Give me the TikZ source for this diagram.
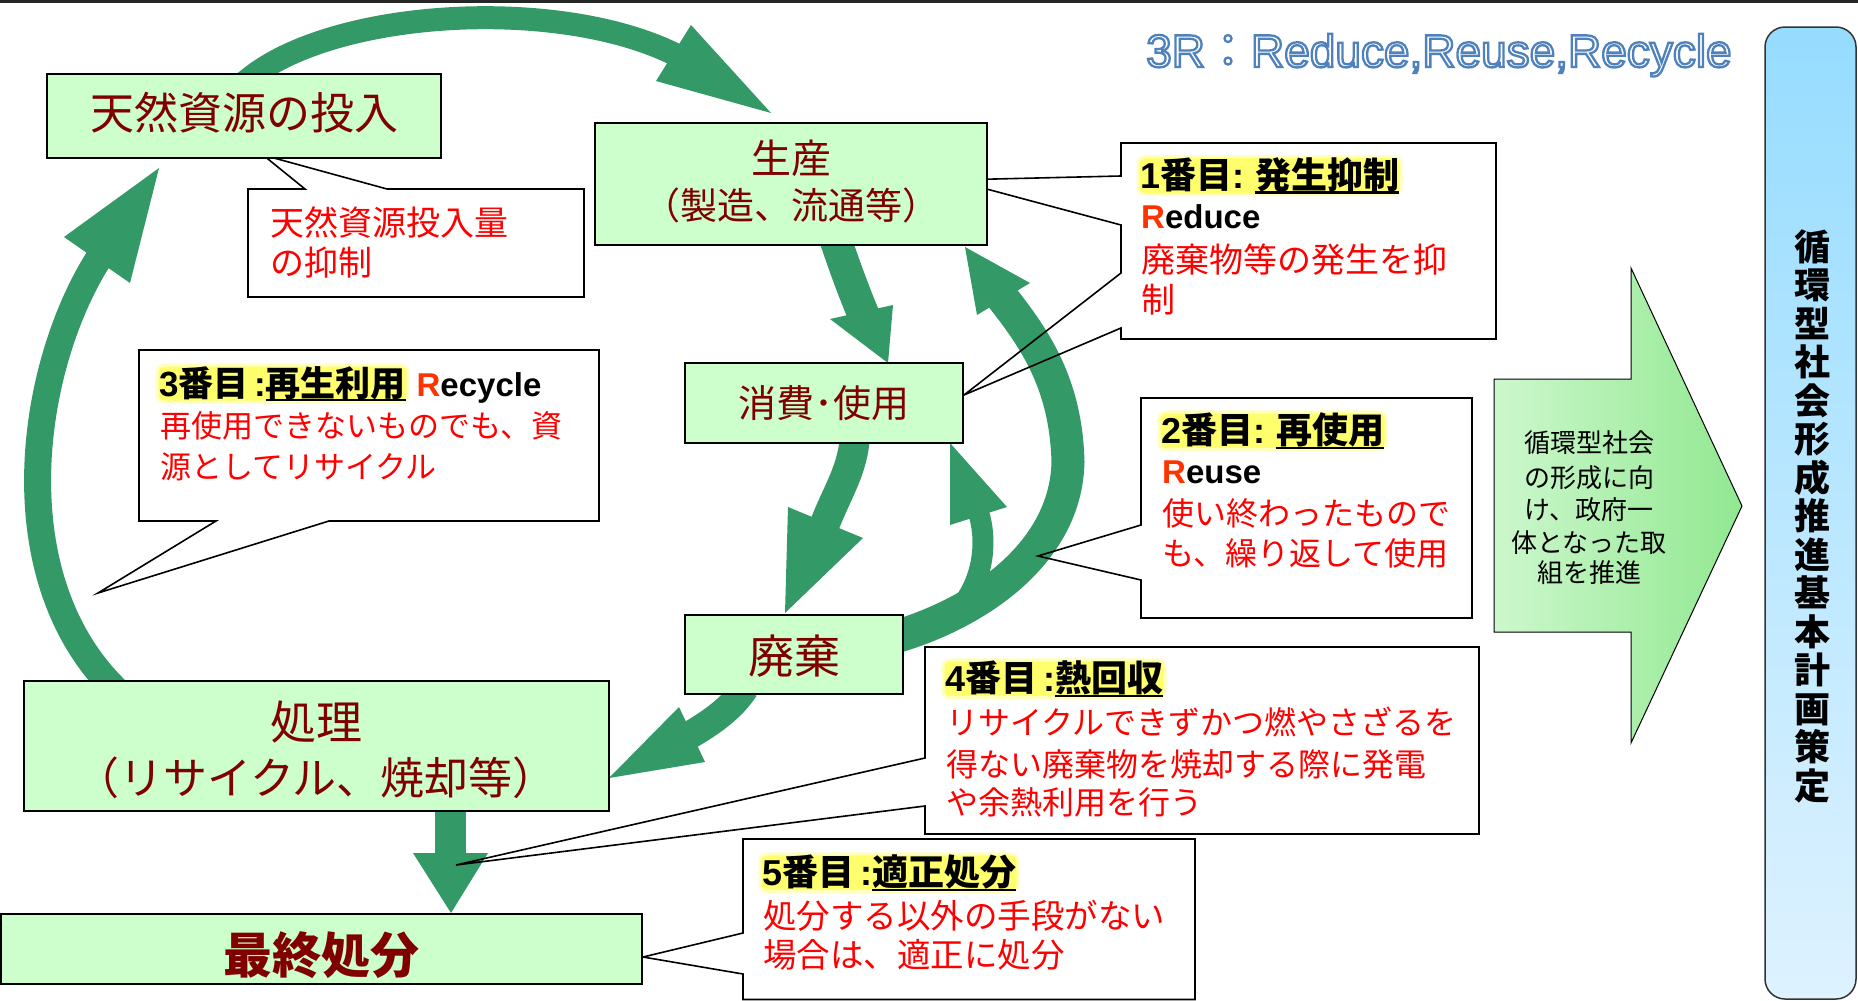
\documentclass[tikz,border=0pt]{standalone}
\usepackage{fontspec}
\setmainfont{Noto Sans CJK JP}
\newfontfamily\lat{Liberation Sans}
\newfontfamily\outl[FakeBold=5]{Liberation Sans}
\newfontfamily\outlj[FakeBold=5]{Noto Sans CJK JP}
\usetikzlibrary{calc}
\definecolor{agreen}{RGB}{51,153,102}
\definecolor{boxg}{RGB}{204,255,204}
\definecolor{dred}{RGB}{128,0,0}
\definecolor{tred}{RGB}{255,0,0}
\definecolor{rorange}{RGB}{255,51,0}
\definecolor{hlY}{RGB}{255,255,110}
\definecolor{hlY2}{RGB}{255,255,190}
\definecolor{barT}{RGB}{150,220,255}
\definecolor{barB}{RGB}{222,242,255}
\definecolor{lgA}{RGB}{205,247,205}
\definecolor{lgB}{RGB}{145,232,145}
\newcommand\fs[1]{\fontsize{#1}{#1}\selectfont}
\newcommand\ulx[1]{\setbox0\hbox{#1}\rlap{\rule[-5pt]{\wd0}{2.2pt}}\box0}
\tikzset{
  gbox/.style={draw=black, line width=2pt, fill=boxg, inner sep=0pt},
  btxt/.style={text=dred, inner sep=0pt, anchor=base},
  ctxt/.style={text=tred, inner sep=0pt, anchor=base west},
  htxt/.style={text=black, anchor=base west, fill=hlY, draw=hlY2, line width=3pt, rounded corners=7pt, inner xsep=2pt, inner ysep=1pt},
  latxt/.style={text=black, inner sep=0pt, anchor=base west},
  callbox/.style={draw=black, line width=1.6pt, line join=miter},
  shaft/.style={draw=agreen, line cap=butt},
  ahead/.style={fill=agreen},
}
\def\pathA{(248,189) -- (305,189) -- (263,155) -- (387,189) -- (584,189) -- (584,297) -- (248,297) -- cycle}
\def\pathB{(139,350) -- (599,350) -- (599,521) -- (329,521) -- (98,593) -- (216,521) -- (139,521) -- cycle}
\def\pathC{(1121,143) -- (1496,143) -- (1496,339) -- (1121,339) -- (1121,328) -- (964,395) -- (1121,273) -- (1121,225) -- (953,180) -- (1121,176) -- cycle}
\def\pathD{(1141,398) -- (1472,398) -- (1472,618) -- (1141,618) -- (1141,580) -- (1038,556) -- (1141,525) -- cycle}
\def\pathE{(925,647) -- (1479,647) -- (1479,834) -- (925,834) -- (925,806) -- (456,865) -- (925,758) -- cycle}
\def\pathF{(743,839) -- (1195,839) -- (1195,999.5) -- (743,999.5) -- (743,974) -- (643,957) -- (743,933) -- cycle}
\begin{document}
\begin{tikzpicture}[x=1pt,y=-1pt]
\useasboundingbox (0,0) rectangle (1858,1001);
\fill[white] (0,0) rectangle (1858,1001);
\draw[line width=3pt, black!85] (0,1.5) -- (1858,1.5);

% blue bar
\shadedraw[top color=barT, bottom color=barB, draw=black!80, line width=1.5pt, rounded corners=20pt] (1765,27) rectangle (1856,999);
\node[align=center, font=\fontsize{36}{38.5}\selectfont\bfseries, inner sep=0pt] (vert) at (1812,516) {循\\環\\型\\社\\会\\形\\成\\推\\進\\基\\本\\計\\画\\策\\定};

% big light green block arrow
\shadedraw[left color=lgA, right color=lgB, draw=black, line width=1pt] (1494,379) -- (1631,379) -- (1631,268) -- (1742,506) -- (1631,743) -- (1631,632) -- (1494,632) -- cycle;
\node[anchor=base, font=\fs{26}, inner sep=0pt] (g1) at (1589,452.4) {循環型社会};
\node[anchor=base, font=\fs{26}, inner sep=0pt] (g2) at (1589,487) {の形成に向};
\node[anchor=base, font=\fs{26}, inner sep=0pt] (g3) at (1589,519) {け、政府一};
\node[anchor=base, font=\fs{26}, inner sep=0pt] (g4) at (1589,552) {体となった取};
\node[anchor=base, font=\fs{26}, inner sep=0pt] (g5) at (1589,582) {組を推進};

% title (white letters with blue outline)
\node[anchor=base west, inner sep=0pt, font=\fs{46}\outl] (title) at (1146,67) {\special{pdf:bcolor [1 1 1] [0.31 0.506 0.741]}3R{\outlj ：}Reduce,Reuse,Recycle\special{pdf:ecolor}};

% callout fills
\fill[white] \pathA;
\fill[white] \pathB;
\fill[white] \pathC;
\fill[white] \pathD;
\fill[white] \pathE;
\fill[white] \pathF;

% green arrows
\draw[shaft, line width=23pt] (245,82) .. controls (330,8) and (565,-5) .. (682,58);
\fill[ahead] (691,25) -- (771,113) -- (656,81) -- cycle;
\draw[shaft, line width=27pt] (118,692) .. controls (0,580) and (28,370) .. (99,258);
\fill[ahead] (64,237) -- (159,168) -- (130,283) -- cycle;
\draw[shaft, line width=32pt] (834,235) .. controls (845,268) and (854,292) .. (864,316);
\fill[ahead] (830,319) -- (888,363) -- (893,305) -- cycle;
\draw[shaft, line width=30pt] (855,435) .. controls (853,470) and (838,490) .. (824,526);
\fill[ahead] (788,507) -- (785,613) -- (863,538) -- cycle;
\draw[shaft, line width=28pt] (745,688) .. controls (732,708) and (712,722) .. (690,735);
\fill[ahead] (679,707) -- (609,778) -- (705,762) -- cycle;
\draw[shaft, line width=33pt] (895,637) .. controls (980,612) and (1066,552) .. (1068,462) .. controls (1066,385) and (1036,340) .. (1001,296);
\fill[ahead] (977,315) -- (965,247) -- (1030,283) -- cycle;
\draw[shaft, line width=21pt] (945,622) .. controls (978,598) and (990,552) .. (979,514);
\fill[ahead] (950,525) -- (950,443) -- (1007,507) -- cycle;
\draw[shaft, line width=31pt] (450.5,805) -- (450.5,855);
\fill[ahead] (413,853) -- (451,913) -- (488,853) -- cycle;

% callout outlines
\draw[callbox] \pathA;
\draw[callbox] \pathB;
\draw[callbox] \pathC;
\draw[callbox] \pathD;
\draw[callbox] \pathE;
\draw[callbox] \pathF;

% green boxes
\node[gbox, minimum width=394pt, minimum height=84pt] (nat) at (244,116) {};
\node[gbox, minimum width=392pt, minimum height=122pt] (prod) at (791,184) {};
\node[gbox, minimum width=278pt, minimum height=80pt] (cons) at (824,403) {};
\node[gbox, minimum width=218pt, minimum height=79pt] (waste) at (794,654.5) {};
\node[gbox, minimum width=585pt, minimum height=130pt] (treat) at (316.5,746) {};
\node[gbox, minimum width=641pt, minimum height=70pt] (final) at (321.5,949) {};

\node[btxt, font=\fs{44}] (natT) at (244,129.7) {天然資源の投入};
\node[btxt, font=\fs{40}] (prodT1) at (791,173.2) {生産};
\node[btxt, font=\fs{37}] (prodT2) at (791,219) {（製造、流通等）};
\node[btxt, font=\fs{38}] (consT) at (824,417.4) {消費･使用};
\node[btxt, font=\fs{46}] (wasteT) at (794,673.5) {廃棄};
\node[btxt, font=\fs{46}] (treatT1) at (316,739.5) {処理};
\node[btxt, font=\fs{44}] (treatT2) at (316,794.7) {（リサイクル、焼却等）};
\node[btxt, font=\fs{49}\bfseries] (finalT) at (321,973.6) {最終処分};

% callout texts
\node[ctxt, font=\fs{34}] (tA1) at (270,235.5) {天然資源投入量};
\node[ctxt, font=\fs{34}] (tA2) at (270,275.5) {の抑制};

\node[htxt, font=\fs{36}\bfseries] (tC0) at (1136.5,188.5) {{\lat 1}番目{\lat :} \ulx{発生抑制}};
\node[latxt, font=\fs{33}\lat\bfseries] (tC1) at (1141,228) {\textcolor{rorange}{R}educe};
\node[ctxt, font=\fs{34}] (tC2) at (1141,272) {廃棄物等の発生を抑};
\node[ctxt, font=\fs{34}] (tC3) at (1141,312) {制};

\node[htxt, font=\fs{36}\bfseries] (tD0) at (1157.5,443.7) {{\lat 2}番目{\lat :} \ulx{再使用}};
\node[latxt, font=\fs{33}\lat\bfseries] (tD1) at (1162,483) {\textcolor{rorange}{R}euse};
\node[ctxt, font=\fs{32}] (tD2) at (1162,525) {使い終わったもので};
\node[ctxt, font=\fs{32}] (tD3) at (1162,565) {も、繰り返して使用};

\node[htxt, font=\fs{35}\bfseries] (tB0) at (155.5,396) {{\lat 3}番目{\lat\,:}\ulx{再生利用}};
\node[latxt, font=\fs{33}\lat\bfseries] (tB0r) at ([xshift=7pt]tB0.base east) {\textcolor{rorange}{R}ecycle};
\node[ctxt, font=\fs{31}] (tB1) at (160,437) {再使用できないものでも、資};
\node[ctxt, font=\fs{31}] (tB2) at (160,478) {源としてリサイクル};

\node[htxt, font=\fs{36}\bfseries] (tE0) at (941.5,691.7) {{\lat 4}番目{\lat\,:}\ulx{熱回収}};
\node[ctxt, font=\fs{32}] (tE1) at (946,734.5) {リサイクルできずかつ燃やさざるを};
\node[ctxt, font=\fs{32}] (tE2) at (946,776) {得ない廃棄物を焼却する際に発電};
\node[ctxt, font=\fs{32}] (tE3) at (946,814.5) {や余熱利用を行う};

\node[htxt, font=\fs{36}\bfseries] (tF0) at (758.5,885.7) {{\lat 5}番目{\lat\,:}\ulx{適正処分}};
\node[ctxt, font=\fs{33.5}] (tF1) at (763,928) {処分する以外の手段がない};
\node[ctxt, font=\fs{33.5}] (tF2) at (763,967) {場合は、適正に処分};
\end{tikzpicture}
\end{document}
